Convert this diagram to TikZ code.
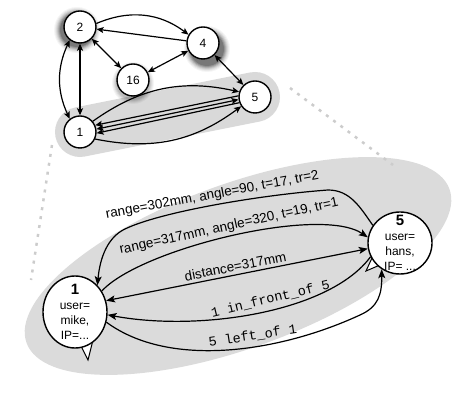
\documentclass[tikz,border=0pt]{standalone}
\usepackage{fontspec}
\setmainfont{Liberation Sans}
\setsansfont{Liberation Sans}
\setmonofont{Liberation Mono}
\usetikzlibrary{arrows.meta,shapes.geometric}
\begin{document}
\begin{tikzpicture}[x=1pt,y=1pt,
  topnode/.style={circle, draw, line width=1.4pt, fill=white, minimum size=32pt, inner sep=0pt, font=\fontsize{12}{14}\selectfont},
  bignode/.style={ellipse, draw, line width=1.4pt, fill=white, inner sep=0pt},
  nodetext/.style={align=center, font=\fontsize{12}{15}\selectfont},
  tarrow/.style={line width=1.2pt, -{Stealth[length=7pt,width=6pt,inset=1.5pt]}},
  tarrowb/.style={line width=1.2pt, {Stealth[length=7pt,width=6pt,inset=1.5pt]}-{Stealth[length=7pt,width=6pt,inset=1.5pt]}},
  barrow/.style={line width=1.2pt, -{Stealth[length=9pt,width=7pt,inset=2pt]}},
  barrowb/.style={line width=1.2pt, {Stealth[length=9pt,width=7pt,inset=2pt]}-{Stealth[length=9pt,width=7pt,inset=2pt]}},
  lab/.style={font=\fontsize{13.5}{15}\selectfont, inner sep=3pt},
  ttlab/.style={font=\fontsize{13.5}{15}\ttfamily, inner sep=3pt},
  zoomline/.style={black!20, line width=2.5pt, dash pattern=on 3pt off 6pt},
  tail/.style={draw, line width=1pt, fill=white, line join=miter}
]
\useasboundingbox (0,0) rectangle (473,417);
% background shapes
\fill[black!14, rotate around={20:(238,151)}] (238,151) ellipse [x radius=225, y radius=82];
\draw[zoomline] (52,272) -- (31,137);
\draw[zoomline] (290,329) -- (393,252);
\draw[black!15, line width=50pt, line cap=round] (80,285) -- (255,320);
% shadows of the upper nodes
\foreach \r/\o in {23/0.04,22/0.05,21/0.07,20/0.09,19/0.12,18/0.15,17/0.18}{
  \fill[black, opacity=\o] (77,387) circle (\r);
  \fill[black, opacity=\o] (207,368) circle (\r);
}
\foreach \r/\o in {21/0.04,20/0.05,19/0.06,18/0.07,17/0.08}{
  \fill[black, opacity=\o] (133,334) circle (\r);
}
% upper graph
\node[topnode] (t2) at (80,390) {2};
\node[topnode] (t4) at (203,374) {4};
\node[topnode] (t16) at (133,337) {16};
\node[topnode] (t5) at (255,320) {5};
\node[topnode] (t1) at (80,285) {1};
\draw[tarrow] (t2.12) to[bend left=30] (t4.150);
\draw[tarrow] (t4) -- (t2);
\draw[tarrowb] (t2) -- (t16);
\draw[tarrowb] (t16) -- (t4);
\draw[tarrowb] (t4) -- (t5);
\draw[tarrowb] (t2) -- (t1);
\draw[tarrowb] (t2.232) to[bend right=25] (t1.128);
\draw[tarrow] (t1.40) to[bend left=24] (t5.162);
\draw[tarrow] (t5.176) -- (t1.24);
\draw[tarrowb] (t1.10) -- (t5.189);
\draw[tarrow] (t5.200) -- (t1.-4);
\draw[tarrow] (t1.-25) to[bend right=24] (t5.214);
% lower graph: speech tails
\draw[tail] (80,73) -- (88,57) -- (93,77);
\draw[tail] (372,159) -- (366,146) -- (380,152);
% lower nodes
\node[bignode, minimum width=64pt, minimum height=72pt,
  label={[nodetext]center:{{\fontsize{15}{17}\selectfont\bfseries 1}\\user=\\mike,\\IP=...}}] (b1) at (75,105) {};
\node[bignode, minimum width=64pt, minimum height=62pt,
  label={[nodetext]center:{{\fontsize{15}{17}\selectfont\bfseries 5}\\user=\\hans,\\IP= ...}}] (b5) at (400,174) {};
% lower edges
\draw[barrow] (b5.147) .. controls (360,210) and (350,227) .. (328,227)
  .. controls (260,222) and (160,205) .. (125,188)
  node[lab, pos=0.5, sloped, above] {range=302mm, angle=90, t=17, tr=2}
  .. controls (108,180) and (100,160) .. (b1.50);
\draw[barrow] (b1.38) .. controls (140,168) and (320,212) .. (b5.170)
  node[lab, pos=0.5, sloped, above] {range=317mm, angle=320, t=19, tr=1};
\draw[barrowb] (b1.20) -- (b5.190)
  node[lab, midway, sloped, above] {distance=317mm};
\draw[barrow] (b5.205) .. controls (330,105) and (200,85) .. (b1.-5)
  node[ttlab, pos=0.45, sloped, above=2pt] {1 in\_front\_of 5};
\draw[barrow] (b1.-18) .. controls (170,48) and (280,65) .. (360,102)
  node[ttlab, pos=0.6, sloped, above=2pt] {5 left\_of 1}
  .. controls (378,110) and (382,122) .. (b5.235);
\end{tikzpicture}
\end{document}
